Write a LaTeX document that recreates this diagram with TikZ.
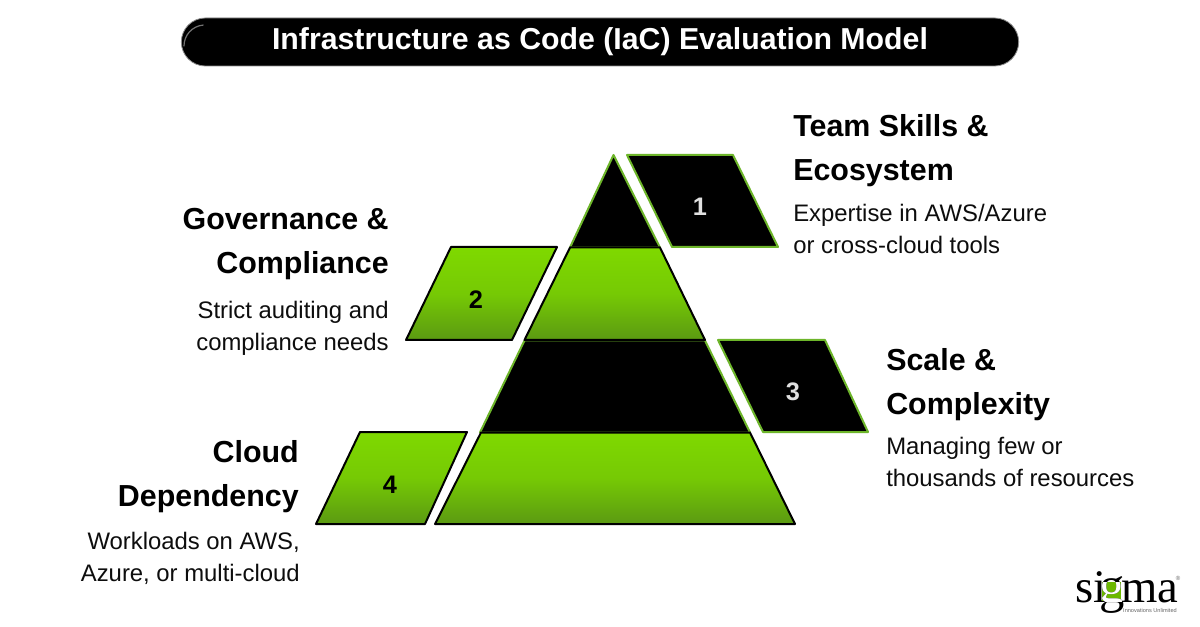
\documentclass[tikz,border=0pt]{standalone}
\usepackage{fontspec}
\setmainfont{Liberation Sans}
\newfontfamily\logofont{Liberation Serif}
\definecolor{lime}{HTML}{7FD900}
\definecolor{limedark}{HTML}{5B9A12}
\definecolor{edgelime}{HTML}{6DB52A}
\tikzset{
  x=.75pt,y=-.75pt,
  darktier/.style={fill=black,draw=edgelime,line width=1.5pt,line join=round},
  limetier/.style={top color=lime,bottom color=limedark,middle color=lime!75!limedark,draw=black,line width=1.5pt,line join=round},
  darkplate/.style={darktier},
  limeplate/.style={limetier},
  numdark/.style={font=\fontsize{19}{19}\selectfont\bfseries,text=black!12},
  numlime/.style={font=\fontsize{19}{19}\selectfont\bfseries,text=black},
  head/.style={font=\fontsize{22.8}{33}\selectfont\bfseries,inner sep=0pt},
  body/.style={font=\fontsize{17.9}{24}\selectfont,text=black!95,inner sep=0pt},
  logotext/.style={anchor=base west,inner sep=0pt,font=\logofont\fontsize{35}{35}\selectfont},
}
\begin{document}
\begin{tikzpicture}
\useasboundingbox (0,0) rectangle (1200,627);
\fill[white] (0,0) rectangle (1200,627);
% title
\node[draw=black!45,fill=black,rounded corners=18pt,line width=.6pt,minimum width=628pt,minimum height=36pt,inner sep=0pt,
  text=white,font=\fontsize{22.7}{26}\selectfont\bfseries] (title) at (600,42) {Infrastructure as Code (IaC) Evaluation Model};
\draw[black!55,line width=.9pt,line cap=round] (184,46) arc (180:265:21);
% pyramid
\draw[darktier] (613.5,155) -- (660,247.5) -- (570,247.5) -- cycle;
\draw[darktier] (524.5,340.5) -- (705,340.5) -- (750,432.5) -- (480,432.5) -- cycle;
\draw[limetier] (570,247.5) -- (660,247.5) -- (705,340) -- (524.5,340) -- cycle;
\draw[limetier] (481,432.5) -- (750,432.5) -- (795,524) -- (435,524) -- cycle;
% plates
\draw[darkplate] (627,155) -- (733,155) -- (778,247) -- (672,247) -- cycle;
\draw[limeplate] (451,247) -- (557,247) -- (512,340) -- (406,340) -- cycle;
\draw[darkplate] (718,340) -- (825,340) -- (868,432) -- (763,432) -- cycle;
\draw[limeplate] (360,432) -- (467,432) -- (425,524) -- (316,524) -- cycle;
\node[numdark] (n1) at (700,207) {1};
\node[numlime] (n2) at (476,300) {2};
\node[numdark] (n3) at (793,392) {3};
\node[numlime] (n4) at (390,485) {4};
% texts
\node[head,anchor=north west,align=left] (h1) at (793,114) {Team Skills \&\\Ecosystem};
\node[body,anchor=north west,align=left] (b1) at (793,204) {Expertise in AWS/Azure\\or cross-cloud tools};
\node[head,anchor=north east,align=right] (h2) at (389,208.5) {Governance \&\\Compliance};
\node[body,anchor=north east,align=right] (b2) at (389,301) {Strict auditing and\\compliance needs};
\node[head,anchor=north west,align=left] (h3) at (886,348) {Scale \&\\Complexity};
\node[body,anchor=north west,align=left] (b3) at (886,437) {Managing few or\\thousands of resources};
\node[head,anchor=north east,align=right] (h4) at (299,440.5) {Cloud\\Dependency};
\node[body,anchor=north east,align=right] (b4) at (300,532) {Workloads on AWS,\\Azure, or multi-cloud};
% logo
\node[logotext] (lsi) at (1075,602) {si};
\fill[lime!85!black] (1102,582) rectangle (1121,601);
\node[logotext,font=\logofont\fontsize{38}{38}\selectfont] (lg) at (1099,602) {g};
\begin{scope}
\clip (1102,582) rectangle (1121,601);
\node[logotext,text=white,font=\logofont\fontsize{38}{38}\selectfont] (lgw) at (1099,602) {g};
\end{scope}
\node[logotext] (lma) at (1121,602) {ma};
\node[anchor=base east,inner sep=0pt,text=black!60,font=\fontsize{4.2}{5}\selectfont] (ltag) at (1177,612) {Innovations Unlimited};
\node[anchor=center,inner sep=0pt,text=black!60,font=\fontsize{4.5}{5}\selectfont] (lreg) at (1178,578) {®};
\end{tikzpicture}
\end{document}
